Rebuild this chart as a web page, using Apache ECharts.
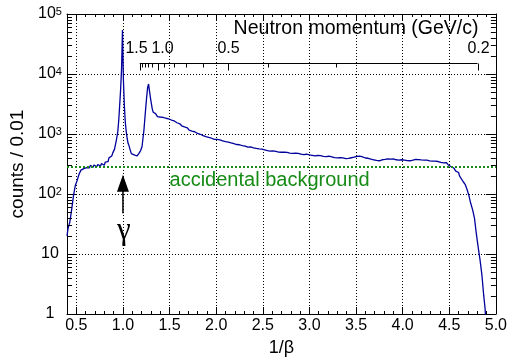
<!DOCTYPE html>
<html>
<head>
<meta charset="utf-8">
<script src="https://cdn.jsdelivr.net/npm/echarts@6/dist/echarts.min.js"></script>
<style>
html, body { margin: 0; padding: 0; background: #fff; }
#main { width: 510px; height: 362px; }
</style>
</head>
<body>
<div id="main"></div>
<script>
// 1/beta bin positions and counts per 0.01 bin
const invBeta = [
  0.40, 0.42, 0.44, 0.46, 0.48, 0.50, 0.52, 0.54, 0.56, 0.58,
  0.60, 0.62, 0.64, 0.66, 0.68, 0.70, 0.72, 0.74, 0.76, 0.78,
  0.80, 0.82, 0.84, 0.86, 0.88, 0.90, 0.92, 0.94, 0.95, 0.96,
  0.97, 0.98, 0.99, 1.00, 1.01, 1.02, 1.03, 1.04, 1.05, 1.06,
  1.07, 1.08, 1.10, 1.12, 1.14, 1.16, 1.18, 1.20, 1.21, 1.22,
  1.23, 1.24, 1.25, 1.26, 1.27, 1.28, 1.29, 1.30, 1.31, 1.32,
  1.33, 1.34, 1.36, 1.38, 1.40, 1.42, 1.44, 1.46, 1.48, 1.50,
  1.52, 1.54, 1.56, 1.58, 1.60, 1.62, 1.64, 1.66, 1.68, 1.70,
  1.72, 1.74, 1.76, 1.78, 1.80, 1.82, 1.84, 1.86, 1.88, 1.90,
  1.92, 1.94, 1.96, 1.98, 2.00, 2.02, 2.04, 2.06, 2.08, 2.10,
  2.12, 2.14, 2.16, 2.18, 2.20, 2.22, 2.24, 2.26, 2.28, 2.30,
  2.32, 2.34, 2.36, 2.38, 2.40, 2.42, 2.44, 2.46, 2.48, 2.50,
  2.52, 2.54, 2.56, 2.58, 2.60, 2.62, 2.64, 2.66, 2.68, 2.70,
  2.72, 2.74, 2.76, 2.78, 2.80, 2.82, 2.84, 2.86, 2.88, 2.90,
  2.92, 2.94, 2.96, 2.98, 3.00, 3.02, 3.04, 3.06, 3.08, 3.10,
  3.12, 3.14, 3.16, 3.18, 3.20, 3.22, 3.24, 3.26, 3.28, 3.30,
  3.32, 3.34, 3.36, 3.38, 3.40, 3.42, 3.44, 3.46, 3.48, 3.50,
  3.52, 3.54, 3.56, 3.58, 3.60, 3.62, 3.64, 3.66, 3.68, 3.70,
  3.72, 3.74, 3.76, 3.78, 3.80, 3.82, 3.84, 3.86, 3.88, 3.90,
  3.92, 3.94, 3.96, 3.98, 4.00, 4.02, 4.04, 4.06, 4.08, 4.10,
  4.12, 4.14, 4.16, 4.18, 4.20, 4.22, 4.24, 4.26, 4.28, 4.30,
  4.32, 4.34, 4.36, 4.38, 4.40, 4.42, 4.44, 4.46, 4.48, 4.50,
  4.52, 4.54, 4.56, 4.58, 4.60, 4.62, 4.64, 4.66, 4.68, 4.70,
  4.72, 4.74, 4.76, 4.78, 4.80, 4.82, 4.84, 4.86, 4.88, 4.89,
  4.90
];
const counts = [
  20, 26, 34, 55, 95, 140, 170, 215, 250, 265,
  275, 295, 272, 300, 280, 305, 285, 310, 292, 322,
  302, 340, 345, 400, 430, 480, 560, 800, 1100, 1700,
  3000, 5500, 12000, 54000, 8000, 3000, 1600, 1100, 850, 700,
  640, 560, 470, 450, 430, 440, 470, 530, 620, 850,
  1150, 1800, 2800, 4200, 6000, 6800, 5200, 4000, 3200, 2600,
  2300, 2190, 2030, 1950, 1920, 1900, 1860, 1830, 1790, 1750,
  1710, 1650, 1590, 1540, 1480, 1420, 1370, 1310, 1270, 1220,
  1160, 1120, 1090, 1040, 1020, 990, 960, 940, 905, 880,
  875, 850, 835, 815, 812, 790, 795, 770, 755, 745,
  735, 712, 710, 688, 690, 668, 662, 655, 640, 628,
  622, 602, 608, 590, 588, 575, 580, 565, 558, 548,
  545, 530, 532, 518, 522, 510, 514, 500, 506, 496,
  500, 486, 492, 480, 488, 474, 481, 470, 476, 462,
  466, 452, 460, 445, 448, 440, 444, 432, 438, 428,
  435, 425, 430, 420, 426, 414, 416, 404, 410, 400,
  405, 394, 400, 390, 396, 392, 402, 414, 410, 424,
  430, 426, 414, 408, 398, 394, 388, 382, 372, 366,
  362, 358, 366, 372, 378, 376, 386, 380, 378, 384,
  372, 376, 368, 372, 362, 366, 360, 364, 358, 366,
  372, 378, 374, 380, 370, 368, 362, 366, 356, 360,
  352, 354, 346, 348, 338, 342, 330, 332, 316, 305,
  285, 270, 255, 240, 228, 200, 178, 160, 145, 120,
  95, 70, 55, 40, 22, 13, 8, 4.5, 2, 1.2,
  0.5
];

const xMajor = [0.5, 1.0, 1.5, 2.0, 2.5, 3.0, 3.5, 4.0, 4.5, 5.0];
const yDecades = [1, 10, 100, 1000, 10000, 100000];
const yMinorSteps = [2, 3, 4, 5, 6, 7, 8, 9];

// neutron momentum axis (GeV/c)
const pMajor = [1.5, 1.0, 0.5, 0.2];
const pMinor = [1.4, 1.3, 1.2, 1.1, 0.9, 0.8, 0.7, 0.6, 0.4, 0.3];
const pAxisLevel = 15000;     // height of the momentum axis, in counts
const bgLevel = 280;          // accidental background level
const gammaX = 1.0;
const arrowTip = 210, arrowTail = 48, gammaLevel = 44;

const font = 'Liberation Sans, Arial, Helvetica, sans-serif';
const blue = '#00009c';
const green = '#168c16';
const mN = 0.9396;
const invBetaOf = p => Math.sqrt(1 + (mN * mN) / (p * p));

const data = invBeta.map((x, i) => [x, counts[i]]);

const chart = echarts.init(document.getElementById('main'));

const xBase = { type: 'value', min: 0.4, max: 5.0, splitLine: { show: false } };
const yBase = { type: 'log', logBase: 10, min: 1, max: 100000, splitLine: { show: false } };
const black = { color: '#000', width: 1 };

chart.setOption({
  animation: false,
  grid: { left: 67, right: 12, top: 14, bottom: 46 },
  xAxis: [
    { ...xBase, position: 'bottom', interval: 0.1,
      axisLine: { lineStyle: black },
      axisTick: { inside: true, length: 3, lineStyle: black },
      axisLabel: { customValues: xMajor, formatter: v => v.toFixed(1), color: '#000',
        fontSize: 16, fontFamily: font, margin: 4 },
      name: '1/β', nameLocation: 'middle', nameGap: 25,
      nameTextStyle: { color: '#000', fontSize: 18, fontFamily: font } },
    { ...xBase, position: 'top', interval: 0.1,
      axisLine: { lineStyle: black },
      axisTick: { inside: true, length: 3, lineStyle: black },
      axisLabel: { show: false } },
    { ...xBase, position: 'bottom',
      axisLine: { show: false },
      axisTick: { inside: true, length: 7, customValues: xMajor, lineStyle: black },
      axisLabel: { show: false, customValues: xMajor },
      splitLine: { show: true, lineStyle: { color: '#000', width: 1, type: [1, 2] } } },
    { ...xBase, position: 'top',
      axisLine: { show: false },
      axisTick: { inside: true, length: 7, customValues: xMajor, lineStyle: black },
      axisLabel: { show: false, customValues: xMajor } }
  ],
  yAxis: [
    { ...yBase, position: 'left',
      axisLine: { lineStyle: black },
      axisTick: { inside: true, length: 10, lineStyle: black },
      axisLabel: {
        color: '#000', fontFamily: font, fontSize: 16, margin: 17, align: 'center',
        formatter: v => {
          if (v < 5) return '{b|1}';
          if (v < 50) return '{b|10}';
          return '{b|10}{s|' + Math.round(Math.log10(v)) + '}';
        },
        rich: {
          b: { fontSize: 16, fontFamily: font, color: '#000', verticalAlign: 'bottom' },
          s: { fontSize: 11, fontFamily: font, color: '#000', verticalAlign: 'top' }
        }
      },
      splitLine: { show: true, lineStyle: { color: '#000', width: 1, type: [1, 2] } },
      name: 'counts / 0.01', nameLocation: 'middle', nameGap: 38,
      nameTextStyle: { color: '#000', fontSize: 19, fontFamily: font } },
    { ...yBase, position: 'right',
      axisLine: { lineStyle: black },
      axisTick: { inside: true, length: 10, lineStyle: black },
      axisLabel: { show: false } }
  ],
  series: [{
    type: 'line',
    xAxisIndex: 0,
    yAxisIndex: 0,
    data: data,
    step: 'middle',
    symbol: 'none',
    clip: true,
    lineStyle: { color: blue, width: 1.3 },
    markLine: {
      silent: true,
      symbol: 'none',
      label: { show: false },
      lineStyle: { color: green, width: 2, type: [2, 2] },
      data: [{ yAxis: bgLevel }]
    },
    z: 3
  }]
});

// overlays placed through the chart's own coordinate conversion
const toPx = (x, y) => chart.convertToPixel({ xAxisIndex: 0, yAxisIndex: 0 }, [x, y]);
const graphics = [];
const txt = (x, y, text, size, align, vAlign, color, fam) => ({
  type: 'text', silent: true, z: 10,
  style: { x, y, text, fill: color || '#000', font: size + 'px ' + (fam || font),
    align, textAlign: align, verticalAlign: vAlign, textVerticalAlign: vAlign }
});
const seg = (x1, y1, x2, y2, w) => ({
  type: 'line', silent: true, z: 10,
  shape: { x1, y1, x2, y2 }, style: { stroke: '#000', lineWidth: w || 1 }
});

// log minor ticks on left and right frame
const xL = toPx(0.4, 1)[0], xR = toPx(5.0, 1)[0];
yDecades.slice(0, -1).forEach(d => {
  yMinorSteps.forEach(m => {
    const y = Math.round(toPx(1, d * m)[1]) + 0.5;
    graphics.push(seg(xL, y, xL + 5, y));
    graphics.push(seg(xR, y, xR - 5, y));
  });
});

// momentum axis
const pY = Math.round(toPx(1, pAxisLevel)[1]) + 0.5;
const pStart = toPx(invBetaOf(pMajor[0]), pAxisLevel)[0];
const pEnd = toPx(invBetaOf(pMajor[pMajor.length - 1]), pAxisLevel)[0];
graphics.push(seg(pStart, pY, pEnd, pY));
pMinor.forEach(p => {
  const x = Math.round(toPx(invBetaOf(p), pAxisLevel)[0]) + 0.5;
  graphics.push(seg(x, pY, x, pY + 4));
});
const labelShift = { '1.5': -4, '1.0': 4 };
pMajor.forEach(p => {
  const x = Math.round(toPx(invBetaOf(p), pAxisLevel)[0]) + 0.5;
  graphics.push(seg(x, pY, x, pY + 7));
  const s = p.toFixed(1);
  graphics.push(txt(x + (labelShift[s] || 0), pY - 7, s, 16, 'center', 'bottom'));
});
graphics.push(txt(pEnd + 1, pY - 25, 'Neutron momentum (GeV/c)', 19.5, 'right', 'bottom'));

// background label
const bg = toPx(1.5, bgLevel);
graphics.push(txt(bg[0], bg[1] + 3, 'accidental background', 20, 'left', 'top', green));

// gamma arrow
const tip = toPx(gammaX, arrowTip);
const tail = toPx(gammaX, arrowTail);
graphics.push(seg(tip[0], tip[1] + 14, tail[0], tail[1], 1.5));
graphics.push({
  type: 'polygon', silent: true, z: 10,
  shape: { points: [[tip[0], tip[1]], [tip[0] - 6, tip[1] + 17], [tip[0] + 6, tip[1] + 17]] },
  style: { fill: '#000' }
});
const g = toPx(gammaX, gammaLevel);
graphics.push(txt(g[0] + 1, g[1], 'γ', 31, 'center', 'top', '#000', 'Liberation Serif, serif'));

chart.setOption({ graphic: graphics });
</script>
</body>
</html>
